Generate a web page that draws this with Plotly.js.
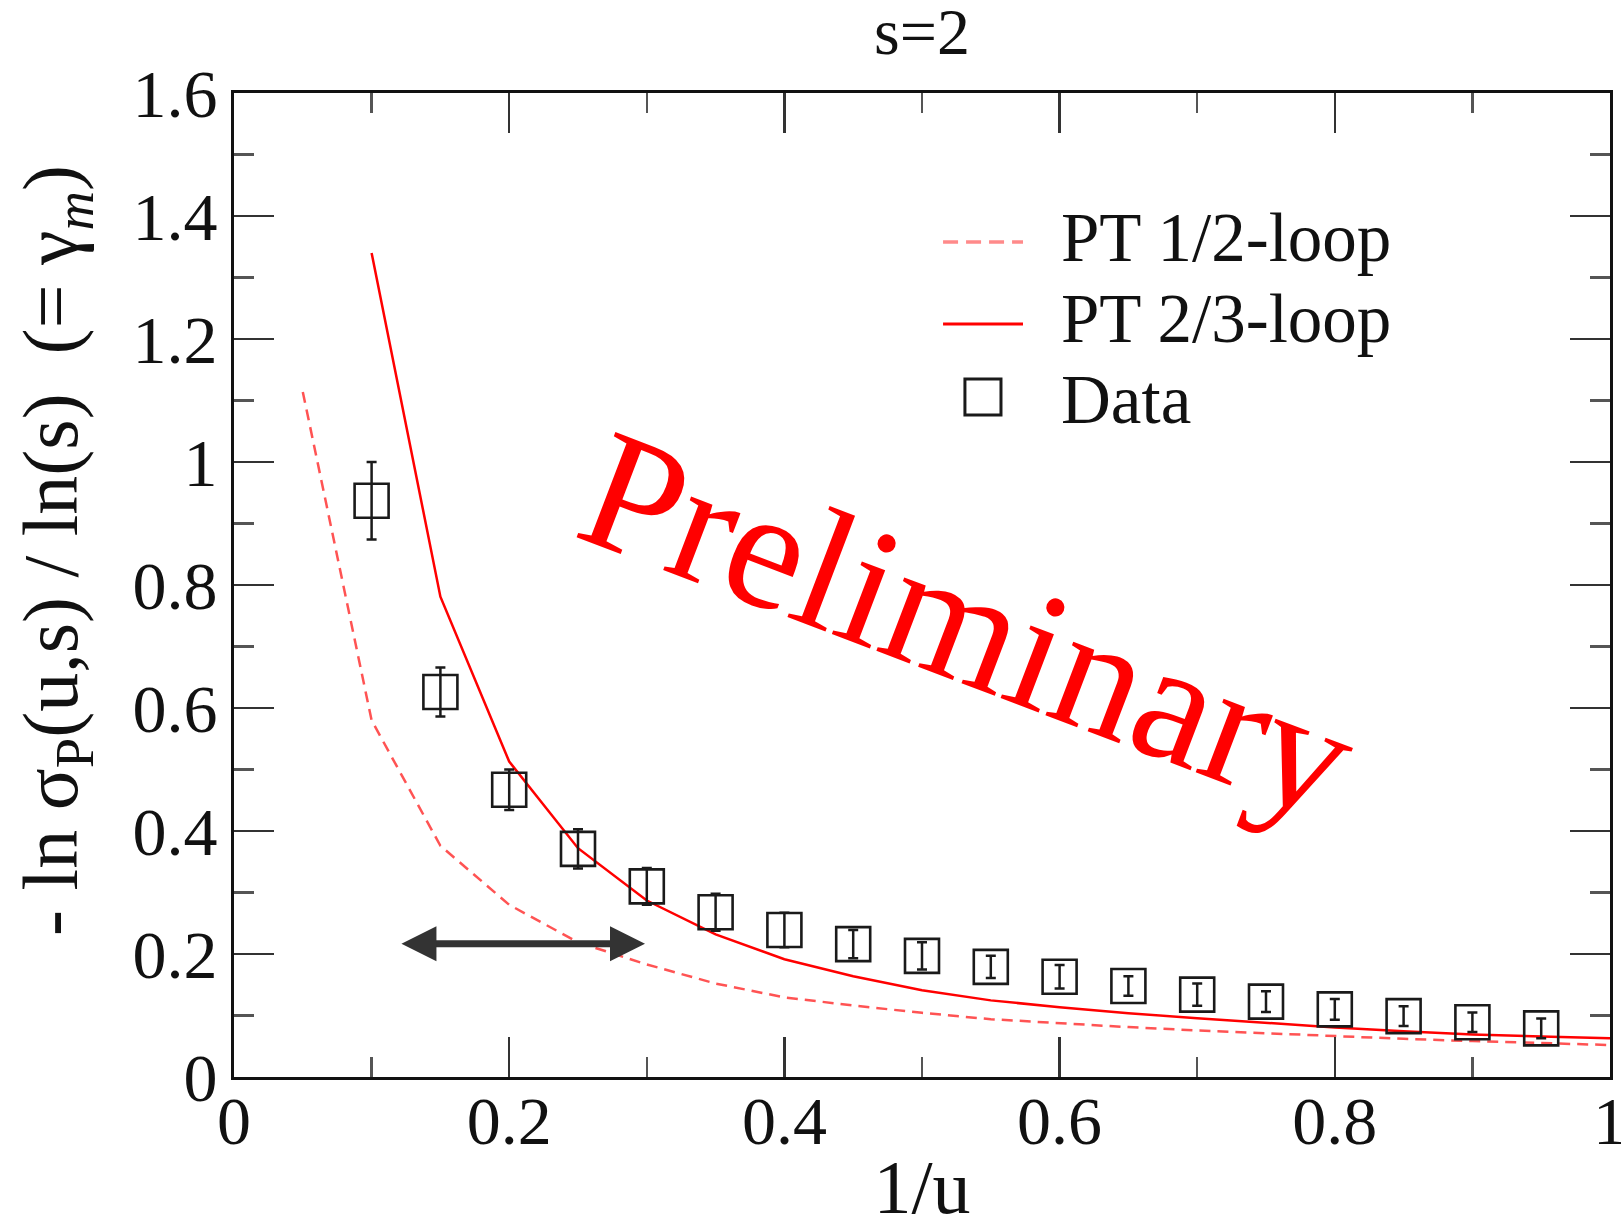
<!DOCTYPE html>
<html><head><meta charset="utf-8">
<script src="https://cdn.plot.ly/plotly-3.0.1.min.js"></script>
<style>body{margin:0;background:#fff}#chart{width:1621px;height:1229px}</style>
</head><body><div id="chart"></div>
<script>
// PT 1/2-loop (dashed)
const pt12X = [0.05,0.10,0.15,0.20,0.25,0.30,0.35,0.40,0.45,0.50,0.55,0.60,0.65,0.70,0.75,0.80,0.85,0.90,0.95,1.00];
const pt12Y = [1.114,0.580,0.376,0.280,0.219,0.183,0.152,0.1295,0.1163,0.1043,0.094,0.0873,0.0811,0.0758,0.0708,0.066,0.062,0.0584,0.0552,0.052];
// PT 2/3-loop (solid)
const pt23X = [0.10,0.15,0.20,0.25,0.30,0.35,0.40,0.45,0.50,0.55,0.60,0.65,0.70,0.75,0.80,0.85,0.90,0.95,1.00];
const pt23Y = [1.340,0.781,0.513,0.372,0.287,0.232,0.1915,0.1637,0.141,0.1246,0.1135,0.1037,0.0957,0.088,0.0805,0.0745,0.0693,0.0659,0.063];
// Data
const dataX = [0.10,0.15,0.20,0.25,0.30,0.35,0.40,0.45,0.50,0.55,0.60,0.65,0.70,0.75,0.80,0.85,0.90,0.95];
const dataY = [0.937,0.626,0.467,0.371,0.310,0.268,0.239,0.216,0.197,0.179,0.163,0.148,0.134,0.1225,0.110,0.099,0.089,0.079];
const dataErr = [0.063,0.040,0.033,0.032,0.030,0.030,0.028,0.023,0.022,0.018,0.019,0.016,0.018,0.017,0.017,0.016,0.016,0.016];
// arrow (range marker)
const arrowFrom = [0.1206, 0.2167];
const arrowTo = [0.2987, 0.2167];
const xTickVals = [0,0.2,0.4,0.6,0.8,1];
const xTickText = ['0','0.2','0.4','0.6','0.8','1'];
const yTickVals = [0,0.2,0.4,0.6,0.8,1,1.2,1.4,1.6];
const yTickText = ['0','0.2','0.4','0.6','0.8','1','1.2','1.4','1.6'];
const legendNames = ['PT 1/2-loop','PT 2/3-loop','Data'];
const yTitle = '- ln σ<sub>P</sub>(u,s) / ln(s)\u00a0\u00a0(= γ<sub><i>m</i></sub>)';

const FONT = 'Liberation Serif, Times New Roman, serif';
const DASHED_COLOR = 'rgba(255,40,40,0.8)';
const SOLID_COLOR = '#ff0000';
const DATA_COLOR = '#1a1a1a';

const traces = [
  {x: pt12X, y: pt12Y, type:'scatter', mode:'lines', name:legendNames[0],
   line:{color:DASHED_COLOR, width:2.5, dash:'11px,7px'}},
  {x: pt23X, y: pt23Y, type:'scatter', mode:'lines', name:legendNames[1],
   line:{color:SOLID_COLOR, width:2.5}},
  {x: dataX, y: dataY, type:'scatter', mode:'markers', name:legendNames[2],
   marker:{symbol:'square-open', size:34, color:DATA_COLOR, line:{width:2.6, color:DATA_COLOR}},
   error_y:{type:'data', array: dataErr, visible:true, thickness:2.5, width:5, color:DATA_COLOR}}
];

const axisCommon = {
  showgrid:false, zeroline:false, showline:true, linewidth:3, linecolor:'#111',
  mirror:'ticks', ticks:'inside', ticklen:40, tickwidth:2.5, tickcolor:'#333',
  tickfont:{family:FONT, size:68, color:'#111'}, ticklabeloverflow:'allow',
  minor:{ticks:'inside', ticklen:20, tickwidth:2.5, tickcolor:'#555', showgrid:false}
};

// manual legend (paper coordinates of the plot area)
const legRowY = [0.8526, 0.7703, 0.688];
const legText = 0.5996;
const legLine = [0.5153, 0.5734];

const layout = {
  width:1621, height:1229,
  paper_bgcolor:'#fff', plot_bgcolor:'#fff',
  margin:{l:234, r:11, t:93, b:152},
  font:{family:FONT, color:'#111'},
  showlegend:false,
  title:{text:'s=2', font:{family:FONT, size:66, color:'#111'}, xref:'paper', x:0.5, xanchor:'center', yref:'container', y:0.975, yanchor:'middle'},
  xaxis: Object.assign({}, axisCommon, {
    range:[0,1], tickmode:'array', tickvals:xTickVals, ticktext:xTickText,
    ticklabelstandoff:-18,
    minor:Object.assign({}, axisCommon.minor, {dtick:0.1, tick0:0}),
    title:{text:'1/u', font:{family:FONT, size:76, color:'#111'}, standoff:41}
  }),
  yaxis: Object.assign({}, axisCommon, {
    range:[0,1.6], tickmode:'array', tickvals:yTickVals, ticktext:yTickText,
    minor:Object.assign({}, axisCommon.minor, {dtick:0.1, tick0:0})
  }),
  shapes:[
    {type:'line', xref:'paper', yref:'paper', x0:legLine[0], x1:legLine[1], y0:legRowY[0]-0.004, y1:legRowY[0]-0.004,
     line:{color:'rgba(255,60,60,0.6)', width:3.5, dash:'15px,8px'}},
    {type:'line', xref:'paper', yref:'paper', x0:legLine[0], x1:legLine[1], y0:legRowY[1]-0.005, y1:legRowY[1]-0.005,
     line:{color:SOLID_COLOR, width:3}},
    {type:'rect', xref:'paper', yref:'paper', x0:0.5312, x1:0.5574, y0:0.6728, y1:0.7093,
     line:{color:DATA_COLOR, width:3}, fillcolor:'rgba(0,0,0,0)'}
  ],
  annotations:[
    {x:-0.1294, y:0.5356, xref:'paper', yref:'paper', text:yTitle, showarrow:false, textangle:-90,
     xanchor:'center', yanchor:'middle', font:{family:FONT, size:78, color:'#111'}},
    {x:legText, y:legRowY[0], xref:'paper', yref:'paper', text:legendNames[0], showarrow:false, xanchor:'left', yanchor:'middle',
     font:{family:FONT, size:69, color:'#111'}},
    {x:legText, y:legRowY[1], xref:'paper', yref:'paper', text:legendNames[1], showarrow:false, xanchor:'left', yanchor:'middle',
     font:{family:FONT, size:69, color:'#111'}},
    {x:legText, y:legRowY[2], xref:'paper', yref:'paper', text:legendNames[2], showarrow:false, xanchor:'left', yanchor:'middle',
     font:{family:FONT, size:69, color:'#111'}},
    {x:0.534, y:0.735, xref:'x', yref:'y', text:'Preliminary', showarrow:false, textangle:20.8,
     font:{family:FONT, size:171, color:'#ff0000'}},
    {x:arrowTo[0], y:arrowTo[1], ax:arrowFrom[0], ay:arrowFrom[1], xref:'x', yref:'y', axref:'x', ayref:'y',
     text:'', showarrow:true, arrowside:'end+start', arrowhead:2, startarrowhead:2,
     arrowsize:1, startarrowsize:1, arrowwidth:7, arrowcolor:'#333', standoff:0, startstandoff:0}
  ]
};

Plotly.newPlot('chart', traces, layout, {displayModeBar:false, staticPlot:true});
</script>
</body></html>
